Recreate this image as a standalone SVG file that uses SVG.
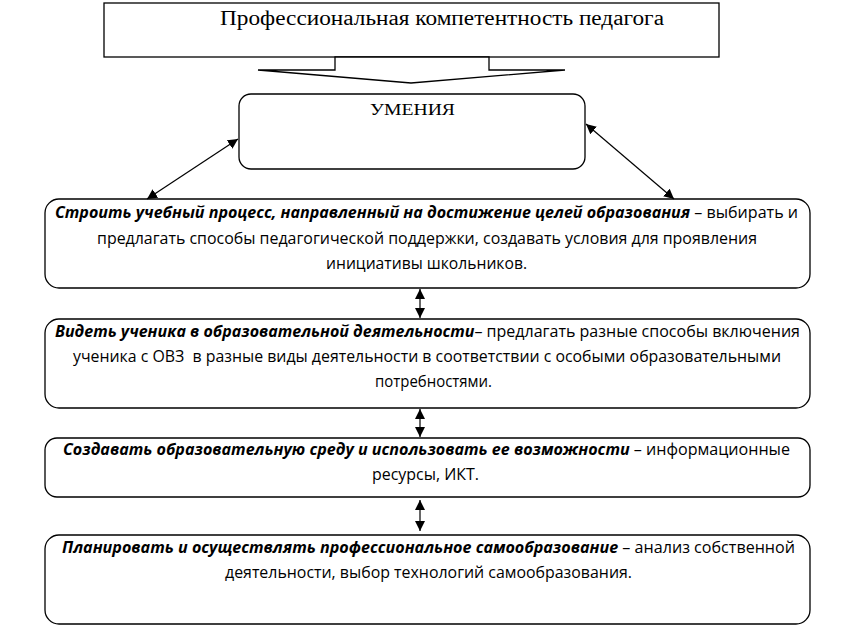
<svg xmlns="http://www.w3.org/2000/svg" width="848" height="638" viewBox="0 0 848 638">
<defs>
<marker id="ah" viewBox="0 0 10 10" refX="10" refY="5" markerWidth="10" markerHeight="10" markerUnits="userSpaceOnUse" orient="auto-start-reverse">
<path d="M0,0 L10,5 L0,10 z" fill="#000"/>
</marker>
<style>
.box{fill:#fff;stroke:#000;stroke-width:1.3}
.t{font-family:"Open Sans","Noto Sans",sans-serif;font-size:16px;fill:#000}
.b{font-weight:bold;font-style:italic}
.serif{font-family:"Liberation Serif","Times New Roman",serif;fill:#000}
.c{stroke:#000;stroke-width:1.2;fill:none;marker-start:url(#ah);marker-end:url(#ah)}
</style>
</defs>
<rect width="848" height="638" fill="#fff"/>
<g id="top">
<rect class="box" x="104" y="3" width="615" height="54"/>
<text class="serif" x="220" y="25" font-size="20.5" textLength="444" lengthAdjust="spacingAndGlyphs">Профессиональная компетентность педагога</text>
</g>
<g id="bigarrow">
<polygon class="box" points="335,57 335,70 258,70 411,83 565,70 489,70 489,57"/>
</g>
<g id="umenia">
<rect class="box" x="239" y="94" width="346" height="75" rx="12"/>
<text class="serif" x="370" y="115" font-size="17" textLength="85" lengthAdjust="spacingAndGlyphs">УМЕНИЯ</text>
</g>
<g id="n1">
<rect class="box" x="45" y="199" width="765" height="89" rx="14"/>
<text class="t" x="55" y="218" textLength="743" lengthAdjust="spacingAndGlyphs"><tspan class="b">Строить учебный процесс, направленный на достижение целей образования</tspan> – выбирать и</text>
<text class="t" x="97" y="244" textLength="660" lengthAdjust="spacingAndGlyphs">предлагать способы педагогической поддержки, создавать условия для проявления</text>
<text class="t" x="326" y="269" textLength="201" lengthAdjust="spacingAndGlyphs">инициативы школьников.</text>
</g>
<g id="n2">
<rect class="box" x="45" y="319" width="765" height="89" rx="14"/>
<text class="t" x="55" y="337" textLength="745" lengthAdjust="spacingAndGlyphs"><tspan class="b">Видеть ученика в образовательной деятельности</tspan>– предлагать разные способы включения</text>
<text class="t" x="73" y="362" textLength="708" lengthAdjust="spacingAndGlyphs" xml:space="preserve">ученика с ОВЗ  в разные виды деятельности в соответствии с особыми образовательными</text>
<text class="t" x="375" y="387" textLength="117" lengthAdjust="spacingAndGlyphs">потребностями.</text>
</g>
<g id="n3">
<rect class="box" x="45" y="438" width="765" height="59" rx="12"/>
<text class="t" x="63" y="455" textLength="727" lengthAdjust="spacingAndGlyphs"><tspan class="b">Создавать образовательную среду и использовать ее возможности</tspan> – информационные</text>
<text class="t" x="372" y="480" textLength="107" lengthAdjust="spacingAndGlyphs">ресурсы, ИКТ.</text>
</g>
<g id="n4">
<rect class="box" x="45" y="535" width="765" height="89" rx="14"/>
<text class="t" x="62" y="553" textLength="733" lengthAdjust="spacingAndGlyphs"><tspan class="b">Планировать и осуществлять профессиональное самообразование</tspan> – анализ собственной</text>
<text class="t" x="225" y="578" textLength="407" lengthAdjust="spacingAndGlyphs">деятельности, выбор технологий самообразования.</text>
</g>
<g id="connectors">
<line class="c" x1="238" y1="139" x2="147" y2="199"/>
<line class="c" x1="586" y1="124" x2="674" y2="199"/>
<line class="c" x1="420" y1="289" x2="420" y2="318"/>
<line class="c" x1="420" y1="409" x2="420" y2="437"/>
<line class="c" x1="420" y1="500" x2="420" y2="531"/>
</g>
</svg>
